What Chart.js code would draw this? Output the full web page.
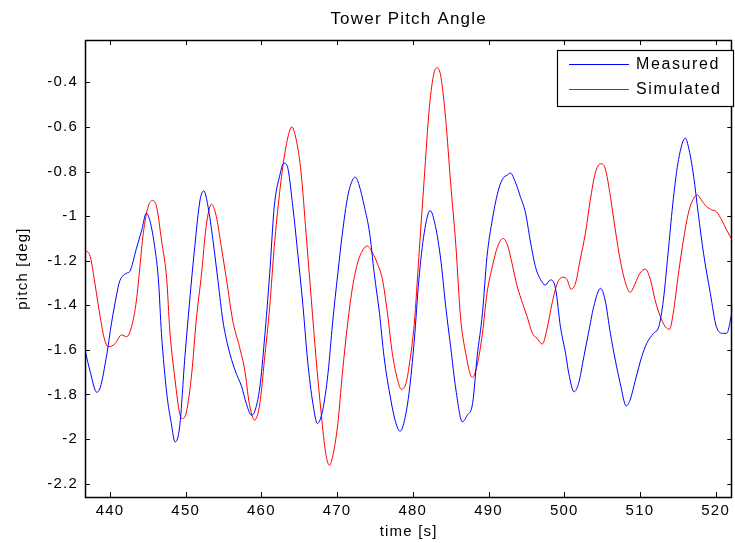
<!DOCTYPE html>
<html>
<head>
<meta charset="utf-8">
<script src="https://cdn.jsdelivr.net/npm/chart.js@4.4.1/dist/chart.umd.min.js"></script>
<style>
  html, body { margin: 0; padding: 0; background: #fff; }
  #grafica { display: block; }
</style>
</head>
<body>
<canvas id="grafica" width="735" height="543"></canvas>
<script>
// time axis [s]
const measuredTime = [436.7, 437.4, 438.25, 438.7, 439.6, 440.2, 441.1, 441.3, 442.2, 442.6, 443.5, 444.2, 444.8, 445.3, 445.9, 446.4, 446.8, 447.5, 448.1, 448.6, 449.2, 449.9, 450.5, 451.2, 451.9, 452.4, 452.95, 453.6, 454.3, 454.9, 455.6, 456.5, 457.4, 458.0, 458.7, 459.1, 459.8, 460.4, 461.1, 461.7, 462.4, 462.96, 463.4, 464.15, 464.8, 465.5, 466.1, 466.8, 467.4, 468.1, 468.8, 469.4, 470.1, 470.7, 471.4, 472.05, 472.4, 472.9, 473.6, 474.3, 474.9, 475.6, 476.2, 477.1, 477.7, 478.3, 478.8, 479.5, 480.2, 480.8, 481.5, 482.3, 483.0, 483.7, 484.35, 485.0, 485.7, 486.55, 487.2, 487.9, 488.5, 489.2, 489.8, 490.5, 491.2, 491.8, 492.5, 492.9, 493.6, 494.2, 494.9, 495.5, 496.2, 496.9, 497.5, 498.2, 498.85, 499.5, 500.2, 500.6, 501.3, 501.9, 502.6, 503.2, 503.9, 504.8, 505.4, 506.1, 506.75, 507.4, 508.2, 508.7, 509.4, 510.25, 510.9, 511.8, 512.5, 513.1, 513.8, 514.4, 515.1, 516.0, 516.4, 517.1, 517.7, 518.4, 519.3, 520.1, 521.0, 521.45, 522.3];
const measuredPitch = [-1.60, -1.70, -1.79, -1.77, -1.616, -1.48, -1.316, -1.29, -1.256, -1.249, -1.144, -1.062, -0.987, -1.024, -1.137, -1.286, -1.526, -1.795, -1.93, -2.013, -1.945, -1.63, -1.39, -1.137, -0.927, -0.887, -0.957, -1.107, -1.30, -1.466, -1.586, -1.69, -1.766, -1.84, -1.893, -1.878, -1.766, -1.556, -1.256, -0.957, -0.822, -0.762, -0.774, -0.957, -1.166, -1.406, -1.646, -1.84, -1.93, -1.87, -1.705, -1.48, -1.256, -1.077, -0.912, -0.837, -0.825, -0.86, -0.957, -1.077, -1.256, -1.436, -1.63, -1.825, -1.92, -1.965, -1.93, -1.795, -1.556, -1.286, -1.077, -0.975, -1.047, -1.197, -1.406, -1.586, -1.78, -1.923, -1.893, -1.84, -1.63, -1.436, -1.182, -1.017, -0.897, -0.837, -0.815, -0.807, -0.852, -0.912, -0.987, -1.107, -1.227, -1.286, -1.309, -1.286, -1.324, -1.496, -1.62, -1.705, -1.788, -1.75, -1.63, -1.526, -1.406, -1.324, -1.376, -1.526, -1.646, -1.75, -1.852, -1.825, -1.736, -1.63, -1.571, -1.526, -1.496, -1.376, -1.137, -0.927, -0.747, -0.65, -0.688, -0.822, -0.987, -1.166, -1.346, -1.496, -1.526, -1.526, -1.406];

const simulatedTime = [436.7, 437.4, 438.0, 438.7, 439.3, 439.8, 440.7, 441.5, 442.2, 442.85, 443.5, 443.95, 444.4, 445.05, 445.6, 446.15, 446.8, 447.5, 447.9, 448.6, 449.2, 449.65, 450.1, 450.8, 451.4, 452.1, 452.7, 453.4, 454.05, 454.7, 455.4, 456.2, 457.1, 457.8, 458.4, 459.1, 459.8, 460.4, 461.1, 461.7, 462.4, 463.1, 463.7, 464.0, 464.6, 465.25, 465.9, 466.6, 467.2, 467.9, 468.5, 469.0, 469.4, 470.1, 470.7, 471.4, 472.05, 472.7, 473.4, 474.0, 474.7, 475.3, 476.0, 476.65, 477.3, 478.0, 478.5, 479.1, 479.5, 480.2, 480.8, 481.5, 482.2, 482.8, 483.25, 483.7, 484.35, 485.0, 485.7, 486.3, 487.0, 487.85, 488.5, 489.2, 489.8, 490.5, 491.2, 491.9, 492.5, 493.1, 493.8, 494.5, 495.1, 495.8, 496.4, 497.1, 497.7, 498.4, 499.1, 499.85, 500.4, 500.9, 501.5, 502.1, 502.8, 503.45, 504.1, 504.8, 505.4, 506.1, 506.75, 507.4, 508.1, 508.7, 509.4, 510.0, 510.7, 511.4, 512.0, 512.7, 513.35, 513.9, 514.4, 515.1, 515.75, 516.4, 517.1, 517.6, 518.1, 518.8, 519.5, 520.1, 520.8, 521.45, 522.3];
const simulatedPitch = [-1.152, -1.182, -1.30, -1.451, -1.556, -1.586, -1.571, -1.533, -1.541, -1.496, -1.376, -1.227, -1.077, -0.957, -0.93, -0.957, -1.107, -1.286, -1.511, -1.736, -1.885, -1.908, -1.878, -1.705, -1.466, -1.256, -1.047, -0.947, -1.002, -1.137, -1.286, -1.466, -1.586, -1.69, -1.84, -1.915, -1.84, -1.646, -1.406, -1.137, -0.897, -0.717, -0.62, -0.60, -0.657, -0.807, -1.077, -1.376, -1.63, -1.885, -2.065, -2.118, -2.08, -1.93, -1.705, -1.48, -1.316, -1.211, -1.152, -1.134, -1.166, -1.211, -1.286, -1.436, -1.616, -1.736, -1.777, -1.75, -1.676, -1.48, -1.182, -0.837, -0.508, -0.358, -0.335, -0.373, -0.568, -0.852, -1.137, -1.451, -1.616, -1.724, -1.668, -1.526, -1.346, -1.227, -1.137, -1.10, -1.129, -1.211, -1.316, -1.391, -1.451, -1.526, -1.548, -1.574, -1.511, -1.391, -1.30, -1.274, -1.286, -1.328, -1.30, -1.197, -1.077, -0.927, -0.807, -0.765, -0.785, -0.912, -1.062, -1.197, -1.30, -1.342, -1.30, -1.256, -1.238, -1.286, -1.376, -1.451, -1.496, -1.508, -1.436, -1.256, -1.107, -0.987, -0.92, -0.905, -0.927, -0.957, -0.972, -0.98, -1.017, -1.062, -1.114];

const xTicks = [440, 450, 460, 470, 480, 490, 500, 510, 520];
const yTicks = [-2.2, -2, -1.8, -1.6, -1.4, -1.2, -1, -0.8, -0.6, -0.4];

const FONT = '"Liberation Sans", Arial, Helvetica, sans-serif';

const graph = document.querySelector("#grafica");

function toPoints(xs, ys) {
	return xs.map((x, i) => ({ x: x, y: ys[i] }));
}

// matlab look: spaced letters, boxed axes with inward ticks, legend box
const matlabLook = {
	id: 'matlabLook',
	beforeLayout(chart) { chart.ctx.letterSpacing = '1.2px'; },
	beforeDraw(chart) { chart.ctx.letterSpacing = '1.2px'; },
	afterDatasetsDraw(chart) {
		const ctx = chart.ctx;
		const a = chart.chartArea;
		const xs = chart.scales.x, ys = chart.scales.y;
		const t = 5;
		ctx.save();
		ctx.strokeStyle = '#000';
		ctx.lineWidth = 1;
		ctx.beginPath();
		xTicks.forEach(v => {
			const p = Math.round(xs.getPixelForValue(v)) + 0.5;
			ctx.moveTo(p, a.bottom); ctx.lineTo(p, a.bottom - t);
			ctx.moveTo(p, a.top); ctx.lineTo(p, a.top + t);
		});
		yTicks.forEach(v => {
			const p = Math.round(ys.getPixelForValue(v)) + 0.5;
			ctx.moveTo(a.left, p); ctx.lineTo(a.left + t, p);
			ctx.moveTo(a.right, p); ctx.lineTo(a.right - t, p);
		});
		ctx.stroke();
		ctx.lineWidth = 1.5;
		ctx.strokeRect(Math.round(a.left) + 0.5, Math.round(a.top) + 0.5,
			Math.round(a.right - a.left) - 1, Math.round(a.bottom - a.top));
		ctx.restore();
	},
	afterDraw(chart) {
		const ctx = chart.ctx;
		const box = { x: 557, y: 50, w: 176, h: 56 };
		ctx.save();
		ctx.fillStyle = '#fff';
		ctx.fillRect(box.x, box.y, box.w, box.h);
		ctx.strokeStyle = '#000';
		ctx.lineWidth = 1.2;
		ctx.strokeRect(box.x + 0.5, box.y + 0.5, box.w, box.h);
		ctx.font = '16px ' + FONT;
		ctx.letterSpacing = '1.6px';
		ctx.textBaseline = 'middle';
		ctx.textAlign = 'left';
		chart.data.datasets.forEach((ds, i) => {
			const y = 64 + i * 25;
			ctx.strokeStyle = ds.borderColor;
			ctx.lineWidth = 1;
			ctx.beginPath();
			ctx.moveTo(569, y + 0.5);
			ctx.lineTo(629, y + 0.5);
			ctx.stroke();
			ctx.fillStyle = '#000';
			ctx.fillText(ds.label, 636, y + 1);
		});
		ctx.restore();
	}
};

const data = {
	datasets: [{
		label: 'Measured',
		data: toPoints(measuredTime, measuredPitch),
		borderColor: 'rgb(0, 0, 255)',
		borderWidth: 1,
		pointRadius: 0,
		cubicInterpolationMode: 'monotone'
	}, {
		label: 'Simulated',
		data: toPoints(simulatedTime, simulatedPitch),
		borderColor: 'rgb(255, 0, 0)',
		borderWidth: 1,
		pointRadius: 0,
		cubicInterpolationMode: 'monotone'
	}]
};

const config = {
	type: 'line',
	data: data,
	plugins: [matlabLook],
	options: {
		responsive: false,
		animation: false,
		devicePixelRatio: 1,
		layout: { padding: { left: 0, top: 0, right: 1, bottom: 0 } },
		plugins: {
			legend: { display: false },
			tooltip: { enabled: false },
			title: {
				display: true,
				text: 'Tower Pitch Angle',
				fullSize: false,
				color: '#000',
				font: { family: FONT, size: 17, weight: 'normal' },
				padding: { top: 9, bottom: 10.6 }
			}
		},
		scales: {
			x: {
				type: 'linear',
				min: 436.7,
				max: 522.2,
				afterFit: s => { s.height = 46; },
				afterBuildTicks: s => { s.ticks = xTicks.map(v => ({ value: v })); },
				grid: { display: false, drawTicks: false },
				border: { display: false },
				ticks: {
					color: '#000',
					padding: 5,
					maxRotation: 0,
					font: { family: FONT, size: 15 },
					callback: v => String(v)
				},
				title: {
					display: true,
					text: 'time [s]',
					color: '#000',
					font: { family: FONT, size: 15 },
					padding: { top: 0, bottom: 2 }
				}
			},
			y: {
				min: -2.26,
				max: -0.21,
				afterFit: s => { s.width = 85; },
				afterBuildTicks: s => { s.ticks = yTicks.map(v => ({ value: v })); },
				grid: { display: false, drawTicks: false },
				border: { display: false },
				ticks: {
					color: '#000',
					padding: 7,
					font: { family: FONT, size: 15 },
					callback: v => String(Number(v.toFixed(1)))
				},
				title: {
					display: true,
					text: 'pitch [deg]',
					color: '#000',
					font: { family: FONT, size: 15 },
					padding: { top: 14, bottom: 0 }
				}
			}
		}
	}
};

new Chart(graph, config);
</script>
</body>
</html>
